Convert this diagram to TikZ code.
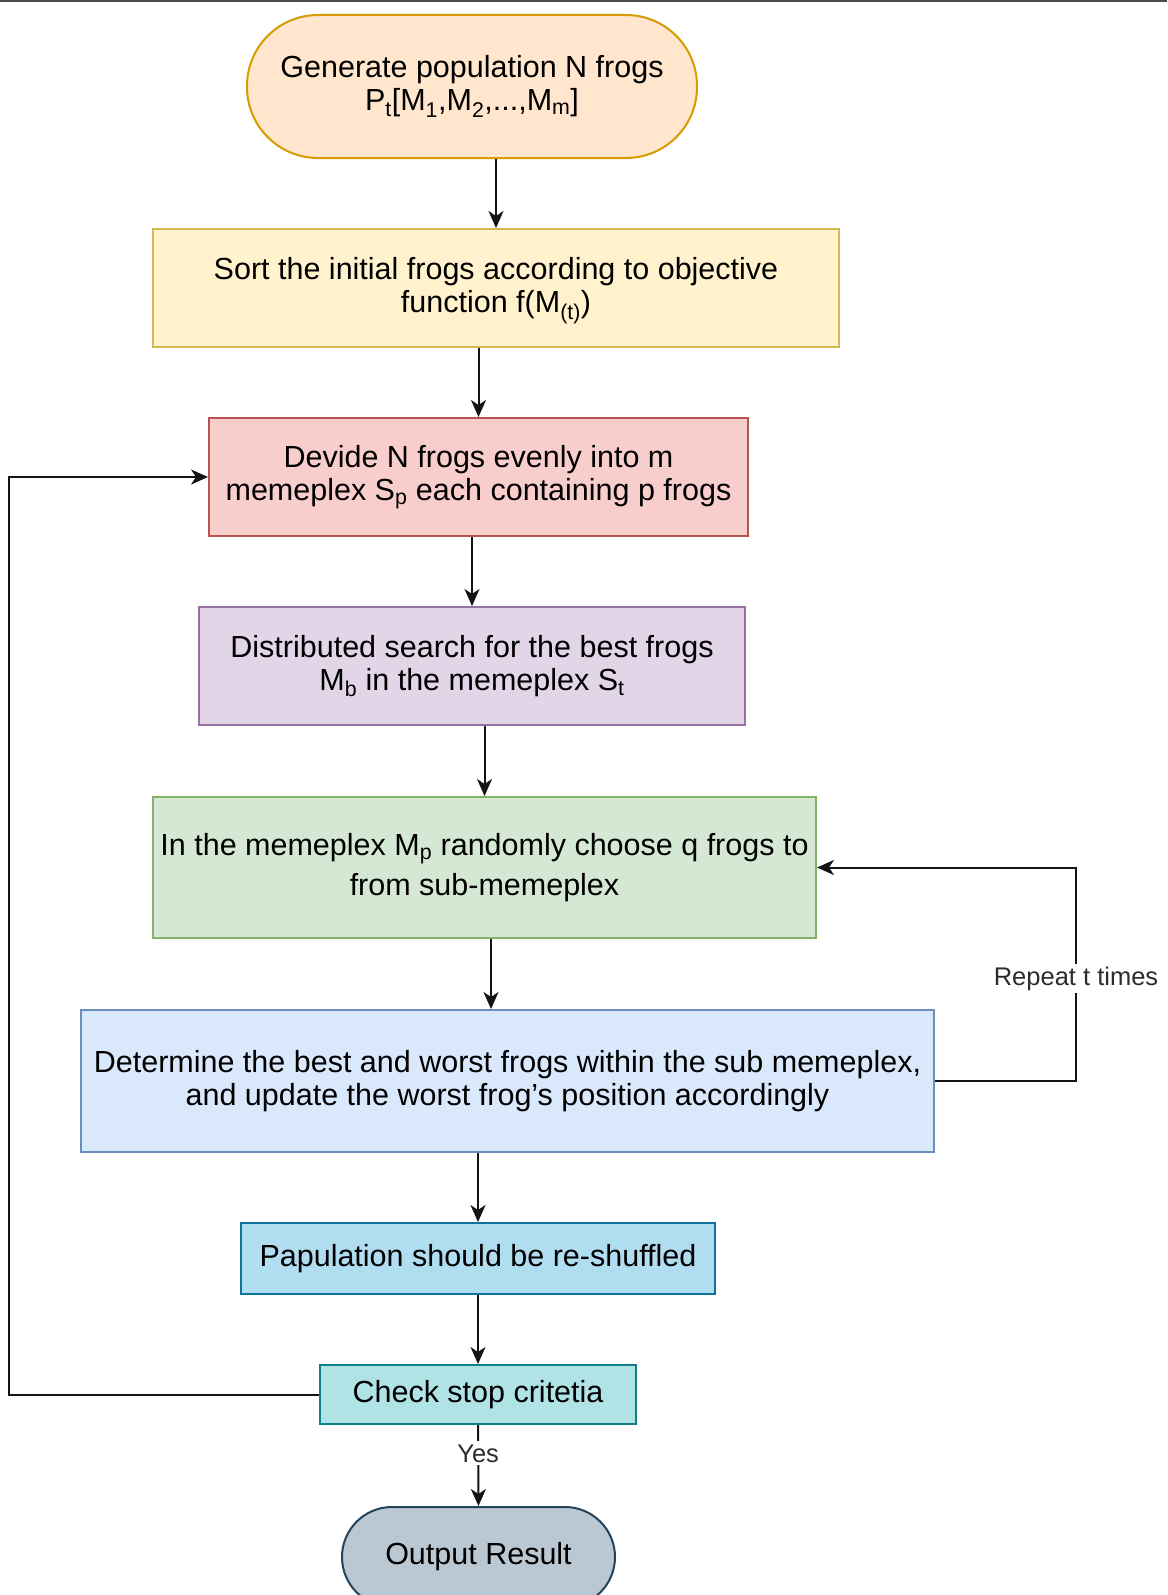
\documentclass[tikz,border=0pt]{standalone}
\usepackage{fontspec}
\setmainfont{Liberation Sans}
\usetikzlibrary{arrows.meta, positioning, calc}
\definecolor{genfill}{HTML}{FFE6CC}
\definecolor{genline}{HTML}{D79B00}
\definecolor{sortfill}{HTML}{FFF2CC}
\definecolor{sortline}{HTML}{D6B656}
\definecolor{divfill}{HTML}{F8CECC}
\definecolor{divline}{HTML}{B85450}
\definecolor{srchfill}{HTML}{E1D5E7}
\definecolor{srchline}{HTML}{9673A6}
\definecolor{subfill}{HTML}{D5E8D4}
\definecolor{subline}{HTML}{82B366}
\definecolor{updfill}{HTML}{DAE8FC}
\definecolor{updline}{HTML}{6C8EBF}
\definecolor{shufill}{HTML}{B1DDF0}
\definecolor{shuline}{HTML}{10739E}
\definecolor{chkfill}{HTML}{B0E3E6}
\definecolor{chkline}{HTML}{0E8088}
\definecolor{outfill}{HTML}{BAC8D3}
\definecolor{outline}{HTML}{23445D}
\definecolor{dkgray}{HTML}{141414}

\begin{document}
\begin{tikzpicture}[
  x=1pt, y=-1pt,
  >={Stealth[length=17pt, width=15pt, inset=5pt]},
  fbox/.style={rectangle, line width=2pt, align=center, inner sep=2pt,
               font=\fontsize{30.5}{33}\selectfont, text=black},
  flow/.style={->, line width=2pt, dkgray},
  lbl/.style={fill=white, inner sep=3pt, text=dkgray!90,
              font=\fontsize{25.5}{28}\selectfont},
]

\useasboundingbox (0,0) rectangle (1167,1595);

% Top frame edge
\draw[line width=3pt, black!70] (0,1) -- (1167,1);

% === Start ===
\node[fbox, fill=genfill, draw=genline, rounded corners=71pt,
      minimum width=450pt, minimum height=143pt] (gen) at (472,86.5)
  {Generate population N frogs\\
   P\textsubscript{t}[M\textsubscript{1},M\textsubscript{2},...,M\textsubscript{m}]};

% === Process boxes ===
\node[fbox, fill=sortfill, draw=sortline, minimum width=686pt, minimum height=118pt]
  (sort) at (496,288)
  {Sort the initial frogs according to objective\\
   function f(M\smash{\textsubscript{(t)}})};

\node[fbox, fill=divfill, draw=divline, minimum width=539pt, minimum height=118pt]
  (divide) at (478.5,477)
  {Devide N frogs evenly into m\\ memeplex S\textsubscript{p} each containing p frogs};

\node[fbox, fill=srchfill, draw=srchline, minimum width=546pt, minimum height=118pt]
  (search) at (472,666)
  {Distributed search for the best frogs\\ M\textsubscript{b} in the memeplex S\textsubscript{t}};

\node[fbox, fill=subfill, draw=subline, minimum width=663pt, minimum height=141pt]
  (sub) at (484.5,867.5)
  {In the memeplex M\textsubscript{p} randomly choose q frogs to\\[7pt] from sub-memeplex};

\node[fbox, fill=updfill, draw=updline, minimum width=853pt, minimum height=142pt]
  (update) at (507.5,1081)
  {Determine the best and worst frogs within the sub memeplex,\\
   and update the worst frog's position accordingly};

\node[fbox, fill=shufill, draw=shuline, minimum width=474pt, minimum height=71pt]
  (shuffle) at (478,1258.5) {Papulation should be re-shuffled};

\node[fbox, fill=chkfill, draw=chkline, minimum width=316pt, minimum height=59pt]
  (check) at (478,1394.5) {Check stop critetia};

% === End ===
\node[fbox, fill=outfill, draw=outline, rounded corners=50pt,
      minimum width=273pt, minimum height=100pt] (out) at (478.5,1557)
  {Output Result};

% Main flow
\draw[flow] (gen.south -| sort.north) -- (sort.north);
\draw[flow] (sort.south -| divide.north) -- (divide.north);
\draw[flow] (divide.south -| search.north) -- (search.north);
\draw[flow] (search.south -| sub.north) -- (sub.north);
\draw[flow] ($(sub.south)+(6.5,0)$) -- ($(update.north)+(-16.5,0)$);
\draw[flow] (update.south -| shuffle.north) -- (shuffle.north);
\draw[flow] (shuffle) -- (check);
\draw[flow] (check.south) -- node[lbl, pos=0.35] {Yes} (out.north);

% Loops
\draw[flow] (update.east) -| node[lbl, pos=0.74] {Repeat t times}
  ($(sub.east)+(259,0)$) -- (sub.east);
\draw[flow] (check.west) -| ($(divide.west)+(-199,0)$) -- (divide.west);

\end{tikzpicture}
\end{document}
